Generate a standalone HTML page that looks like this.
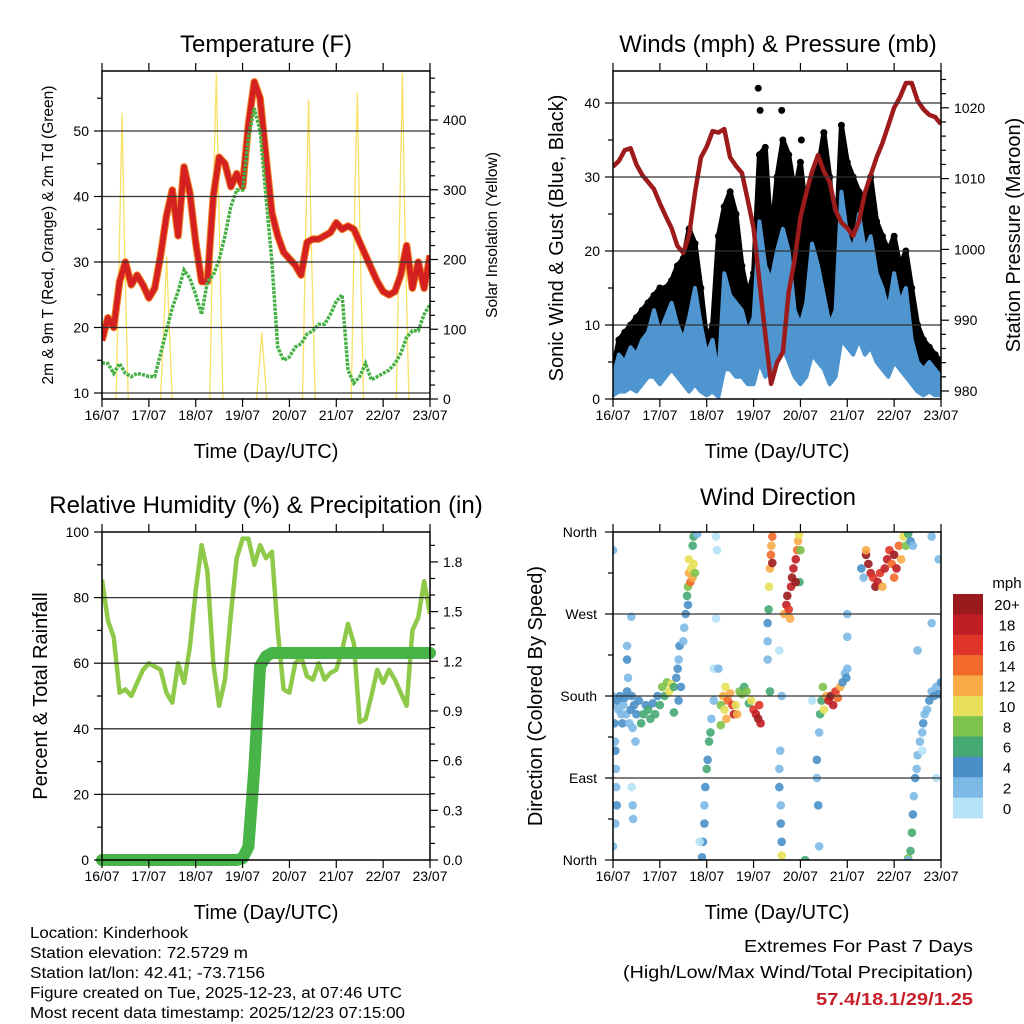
<!DOCTYPE html>
<html><head><meta charset="utf-8">
<style>
html,body{margin:0;padding:0;background:#fff;}
svg{display:block;font-family:"Liberation Sans",Arial,sans-serif;}
</style></head>
<body>
<svg id="fig" width="1024" height="1024" viewBox="0 0 1024 1024" xmlns="http://www.w3.org/2000/svg">
<rect x="0" y="0" width="1024" height="1024" fill="#fff"/>
</svg>
<script>
// ---------- data (0.125-day steps, 57 points, day 0 = 16/07) ----------
const dayLabels = ["16/07","17/07","18/07","19/07","20/07","21/07","22/07","23/07"];
const temp2m = [18,21.5,20,27,30,26.5,28,26.5,24.5,26,31,37,41,34,44.5,40.5,33,27,27,40,46,45,41.5,43.5,41.5,51,57.5,55,46,37.5,34,31.5,30.5,29.5,28,33,33.5,33.5,34,34.5,36,35,35.5,35,33,31,29,27,25.5,25,25.5,28,32.5,26,30,26,31];
const dewpt2m = [14.6,14.5,13,14.5,13,12.5,13,12.8,12.5,12.5,16,19.5,23,25.5,28.8,27.5,25,22,27,28,30.3,34,38.5,41,41,49,53.5,50,40,30,17,15,15.5,17,17.5,19,19.5,20.5,20.5,22,24,25,13.5,11.5,12.5,14.5,12,12.5,13,13.5,14.5,16,18.5,19.5,19.5,22,23.5];
const solarTimes = [0.3,0.38,0.43,0.48,0.56, 1.25,1.33,1.38,1.43,1.5, 2.3,2.38,2.44,2.5,2.58, 3.3,3.37,3.41,3.46,3.52, 4.28,4.36,4.41,4.46,4.55, 5.32,5.4,5.45,5.5,5.58, 6.28,6.36,6.41,6.46,6.55];
const solarValues = [0,250,410,220,0, 0,120,204,110,0, 0,300,467,260,0, 0,60,95,50,0, 0,280,429,240,0, 0,300,439,250,0, 0,290,467,260,0];
const windHi = [3,6,5,7,6,8,9,12,9,11,13,10,8,11,15,10,6,8,3,17,14,13,12,9,11,24,18,16,20,23,20,12,10,13,21,18,14,10,12,28,22,20,25,20,22,17,15,12,17,13,15,8,5,4,5,4,3];
const windLo = [0.5,1,1,1.5,1,2,3,3,2,3,4,3,2,1,2,1,0.5,1,0.3,4,4,3,3,2,2,5,3,4,6,7,5,3,2,3,6,5,4,2,3,8,7,6,8,6,7,5,4,3,5,4,3,2,1,0.5,1,0.5,0.5];
const gustHi = [4,8,9,10,11,12,13,14,15,15,16,18,19,23,21,15,8,10,22,26,28,25,18,14,17,33,34,22,30,35,33,28,32,25,30,31,36,30,20,37,32,30,28,27,30,24,22,20,22,18,20,15,10,8,7,6,5];
const gustOutlierTimes = [3.1,3.14,3.6,4.02,5.7];
const gustOutlierValues = [42,39,39,35,22];
const pressure = [1011.7,1012.5,1014,1014.3,1012,1010.5,1009.5,1008.5,1006.5,1004.7,1003,1000.5,999.5,1002,1008,1013,1014.5,1016.7,1016.5,1017,1013,1011.8,1010.8,1007,1003,995.5,988,981,984,985.5,994,998.5,1004.5,1008,1011,1013.3,1011,1009.5,1005.5,1003.8,1003,1001.9,1004,1008,1010.5,1013,1015,1017.5,1020,1021.5,1023.5,1023.5,1021,1019.8,1019,1018.7,1017.7];
const relHum = [85.5,73,68,51,52,50,54,58,60,59,58,51,48,60,54,65,82,96,88,60,47,55,75,92,98,98,90,96,92,94,70,52,51,60,62,56,55,60,55,57,58,64,72,66,42,43,50,58,54,58,55,51,47,70,74,85,75];
const precip = [0,0,0,0,0,0,0,0,0,0,0,0,0,0,0,0,0,0,0,0,0,0,0,0,0.01,0.08,0.55,1.17,1.23,1.25,1.25,1.25,1.25,1.25,1.25,1.25,1.25,1.25,1.25,1.25,1.25,1.25,1.25,1.25,1.25,1.25,1.25,1.25,1.25,1.25,1.25,1.25,1.25,1.25,1.25,1.25,1.25];
// wind direction scatter
const dirTimes = [0,0.02,0.03,0.04,0.05,0.06,0.07,0.08,0.05,0,0,0.1,0.12,0.15,0.18,0.2,0.22,0.25,0.28,0.3,0.32,0.3,0.3,0.35,0.38,0.4,0.42,0.45,0.4,0.42,0.43,0.48,0.5,0.55,0.39,
0.6,0.65,0.7,0.75,0.8,0.85,0.9,0.95,1,1.05,1.1,1.15,1.2,1.25,1.3,1.35,1.38,1.4,1.42,1.3,1.4,
1.45,1.5,1.52,1.55,1.58,1.6,1.62,1.65,1.67,1.7,1.72,1.75,1.7,1.72,1.8,1.6,1.62,
1.9,1.92,1.95,1.95,1.97,2,2.02,2.05,2.08,1.85,2.2,2.2,2.15,2.25,2.22,2.1,2.15,
2.3,2.35,2.38,2.4,2.42,2.45,2.5,2.55,2.58,2.62,2.65,2.7,2.75,2.8,2.85,2.9,2.95,3,3.05,3.1,3.15,3.12,2.3,
3.3,3.3,3.32,3.33,3.35,3.37,3.38,3.4,3.4,3.3,3.35,
3.55,3.55,3.58,3.58,3.6,3.6,3.57,3.6,3.55,3.65,3.7,3.72,3.75,3.8,3.82,3.85,3.9,3.93,3.95,3.97,4,3.98,3.9,3.78,4.1,4.25,
4.35,4.35,4.38,4.4,4.42,4.45,4.48,4.5,4.55,4.6,4.65,4.7,4.75,4.8,4.85,4.9,4.95,4.98,5,5,5,4.4,
5.3,5.35,5.4,5.45,5.5,5.55,5.6,5.65,5.7,5.75,5.8,5.85,5.9,5.95,6,6.05,6.1,6.15,6.2,6.25,6.3,6.35,6.4,5.4,6,
6.3,6.35,6.38,6.4,6.42,6.45,6.48,6.5,6.55,6.6,6.62,6.65,6.7,6.75,6.8,6.85,6.9,6.95,7,6.5,6.8,6.9,6.95,6.8,6.6,6.3];
const dirValues = [180,170,150,130,120,100,80,60,40,15,340,175,165,180,160,150,170,178,160,185,200,235,220,150,165,180,145,170,80,60,45,130,160,175,267,
150,160,170,165,155,172,160,180,170,190,180,195,185,193,190,200,210,220,235,162,175,
190,240,255,270,290,300,315,305,320,310,325,315,345,355,358,280,330,
3,20,40,60,80,100,110,130,140,20,355,265,210,210,340,155,175,
170,180,165,190,155,175,183,170,160,170,160,185,182,190,185,172,175,165,160,155,150,170,148,
260,240,275,300,320,335,345,355,326,220,185,
100,80,60,40,20,5,120,180,230,270,280,290,275,300,310,320,330,340,350,357,340,305,305,265,0,175,
110,90,60,140,160,175,190,165,180,175,180,170,185,178,190,195,205,200,210,245,270,15,
320,310,335,325,315,310,300,305,315,300,320,330,340,325,335,320,345,330,355,345,358,350,345,340,310,
2,10,30,50,70,90,100,115,130,140,150,160,165,175,185,180,190,182,195,230,260,90,330,355,120,0];
const dirSpeeds = [3,2,4,3,4,2,3,4,2,3,3,4,3,4,2,5,3,4,3,4,3,3,4,3,4,5,3,5,1,2,2,3,4,5,3,
6,7,4,6,7,5,6,4,7,8,6,9,10,11,7,5,4,3,4,6,5,
4,3,3,4,6,8,12,14,10,13,11,9,7,6,3,5,10,
4,5,4,3,5,6,4,7,6,1,1,1,1,2,1,3,2,
8,12,10,11,12,14,13,16,18,10,12,9,8,6,8,7,10,16,18,20,18,17,9,
4,3,6,10,12,14,13,14,20,3,6,
3,4,3,4,4,10,2,3,1,12,18,20,16,18,20,19,18,14,12,10,8,6,20,12,7,1,
4,3,4,3,6,7,8,10,12,18,20,19,16,14,12,4,3,4,2,3,2,3,
5,3,20,20,19,17,20,18,16,12,19,18,16,14,20,18,14,12,10,8,6,4,2,12,15,
8,7,6,4,3,4,3,2,3,2,4,3,3,4,3,4,3,4,4,2,3,1,2,2,1,3];
const speedBinLabels = ["20+","18","16","14","12","10","8","6","4","2","0"];
const speedBinColors = ["#9b1a1c","#bf1e24","#e03428","#f26a2a","#f8ab46","#e8e05a","#7dc24c","#46a872","#4a90c8","#7db9e5","#b5e2f7"];

// ---------- helpers ----------
const NS="http://www.w3.org/2000/svg";
const svg=document.getElementById('fig');
function mk(tag,attrs,parent){const e=document.createElementNS(NS,tag);for(const k in attrs)e.setAttribute(k,attrs[k]);(parent||svg).appendChild(e);return e;}
function txt(s,x,y,size,anchor,parent,extra){const e=mk('text',Object.assign({x:x,y:y,'font-size':size,'text-anchor':anchor||'middle',fill:'#000'},extra||{}),parent);e.textContent=s;return e;}
const stepT = i => i*0.125;

function panel(name,x0,y0,w,h){
  const g=mk('g',{});
  
  
  return {g,x0,y0,w,h,xs:t=>x0+t/7*w};
}
function frame(P,leftTicks,rightTicks,grid){
  const g=P.g;
  const ax=mk('g',{},g);
  
  
  grid.forEach(y=>{mk('line',{x1:P.x0,x2:P.x0+P.w,y1:y,y2:y,stroke:'#333','stroke-width':1.3},ax);});
  mk('rect',{x:P.x0,y:P.y0,width:P.w,height:P.h,fill:'none',stroke:'#000','stroke-width':1.5},ax);
  for(let d=0;d<=7;d++){const x=P.xs(d);
    mk('line',{x1:x,x2:x,y1:P.y0,y2:P.y0-8,stroke:'#000','stroke-width':1.2},ax);
    mk('line',{x1:x,x2:x,y1:P.y0+P.h,y2:P.y0+P.h+8,stroke:'#000','stroke-width':1.2},ax);
    const t=txt(dayLabels[d],x,P.y0+P.h+21,14,'middle',ax);
    
    
  }
  leftTicks.forEach(([y,lab,major])=>{mk('line',{x1:P.x0,x2:P.x0-(major?8:5),y1:y,y2:y,stroke:'#000','stroke-width':1.2},ax);
    if(lab!==null){const t=txt(lab,P.x0-13,y+5,14,'end',ax);}});
  rightTicks.forEach(([y,lab,major])=>{mk('line',{x1:P.x0+P.w,x2:P.x0+P.w+(major?8:5),y1:y,y2:y,stroke:'#000','stroke-width':1.2},ax);
    if(lab!==null){const t=txt(lab,P.x0+P.w+13,y+5,14,'start',ax);}});
  const xl=txt('Time (Day/UTC)',P.x0+P.w/2,P.y0+P.h+59,20,'middle',g);
  
  
}
function pathFrom(xs,ys){return xs.map((x,i)=>(i?'L':'M')+x.toFixed(1)+','+ys[i].toFixed(1)).join('');}
function clip(P,id){const c=mk('clipPath',{id:id});mk('rect',{x:P.x0,y:P.y0,width:P.w,height:P.h},c);return 'url(#'+id+')';}

// ================= Panel 1: Temperature =================
(function(){
  const P=panel('temperature-panel',102,71,328,328);
  const yT=v=>393-(v-10)*6.55;
  const yS=v=>399-v*0.6975;
  const data=mk('g',{'clip-path':clip(P,'c1')},P.g);
  const sp=mk('path',{d:pathFrom(solarTimes.map(P.xs),solarValues.map(yS)),fill:'none',stroke:'#f7dc4a','stroke-width':1.3,'stroke-opacity':0.85},data);
  
  
  const xsT=temp2m.map((v,i)=>P.xs(stepT(i)));
  const o=mk('path',{d:pathFrom(xsT,temp2m.map(yT)),fill:'none',stroke:'#f07f22','stroke-width':7.5,'stroke-linejoin':'round'},data);
  
  
  const r=mk('path',{d:pathFrom(xsT,temp2m.map(yT)),fill:'none',stroke:'#d42020','stroke-width':5.5,'stroke-linejoin':'round'},data);
  
  
  const d=mk('path',{d:pathFrom(xsT,dewpt2m.map(yT)),fill:'none',stroke:'#45b043','stroke-width':3.5,'stroke-dasharray':'3 1.2'},data);
  
  
  const L=[];for(let v=10;v<=55;v+=5)L.push([yT(v),v%10===0?String(v):null,v%10===0]);
  const R=[];for(let v=0;v<=460;v+=20)R.push([yS(v),v%100===0?String(v):null,v%100===0]);
  frame(P,L,R,[10,20,30,40,50].map(yT));
  const t=txt('Temperature (F)',266,52,24,'middle',P.g);
  const yl=txt('2m & 9m T (Red, Orange) & 2m Td (Green)',0,0,15.5,'middle',P.g,{transform:'translate(53,235) rotate(-90)'});
  
  const yr=txt('Solar Insolation (Yellow)',0,0,15.5,'middle',P.g,{transform:'translate(497,235) rotate(-90)'});
  
})();

// ================= Panel 2: Winds & Pressure =================
(function(){
  const P=panel('winds-pressure-panel',613,71,328,328);
  const yW=v=>399-v*7.4;
  const yP=v=>391-(v-980)*7.08;
  const data=mk('g',{'clip-path':clip(P,'c2')},P.g);
  const xs=windHi.map((v,i)=>P.xs(stepT(i)));
  const gArea=mk('path',{d:pathFrom(xs,gustHi.map(yW))+pathFrom(xs.slice().reverse(),windHi.slice().reverse().map(yW)).replace('M','L')+'Z',fill:'#000',stroke:'#000','stroke-width':5,'stroke-linejoin':'round'},data);
  
  
  gustHi.forEach((v,i)=>{const c=mk('circle',{cx:xs[i],cy:yW(v),r:3.5,fill:'#000'},data);
    
    });
  gustOutlierTimes.forEach((t,i)=>{const c=mk('circle',{cx:P.xs(t),cy:yW(gustOutlierValues[i]),r:3.5,fill:'#000'},data);
    
    });
  const wArea=mk('path',{d:pathFrom(xs,windHi.map(yW))+pathFrom(xs.slice().reverse(),windLo.slice().reverse().map(yW)).replace('M','L')+'Z',fill:'#4f95d0',stroke:'#4f95d0','stroke-width':4,'stroke-linejoin':'round'},data);
  
  
  const pl=mk('path',{d:pathFrom(xs,pressure.map(yP)),fill:'none',stroke:'#9e1b1b','stroke-width':4.5,'stroke-linejoin':'round'},data);
  
  
  const L=[];for(let v=0;v<=40;v+=5)L.push([yW(v),v%10===0?String(v):null,v%10===0]);
  const R=[];for(let v=980;v<=1024;v+=2)R.push([yP(v),v%10===0?String(v):null,v%10===0]);
  frame(P,L,R,[10,20,30,40].map(yW));
  const t=txt('Winds (mph) & Pressure (mb)',778,52,24,'middle',P.g);
  const yl=txt('Sonic Wind & Gust (Blue, Black)',0,0,20,'middle',P.g,{transform:'translate(563,238) rotate(-90)'});
  
  const yr=txt('Station Pressure (Maroon)',0,0,20,'middle',P.g,{transform:'translate(1020,235) rotate(-90)'});
  
})();

// ================= Panel 3: RH & Precip =================
(function(){
  const P=panel('humidity-precip-panel',102,532,328,328);
  const yH=v=>860-v*3.28;
  const yR=v=>860-v*165.6;
  const data=mk('g',{'clip-path':clip(P,'c3')},P.g);
  const xs=relHum.map((v,i)=>P.xs(stepT(i)));
  const rh=mk('path',{d:pathFrom(xs,relHum.map(yH)),fill:'none',stroke:'#8fc94a','stroke-width':4.5,'stroke-linejoin':'round'},data);
  
  
  const pr=mk('path',{d:pathFrom(xs,precip.map(yR)),fill:'none',stroke:'#48b447','stroke-width':12,'stroke-linejoin':'round','stroke-linecap':'round'},P.g);
  
  
  const L=[];for(let v=0;v<=100;v+=10)L.push([yH(v),v%20===0?String(v):null,v%20===0]);
  const R=[];for(let k=0;k<=19;k++){const v=k*0.1;R.push([yR(v),k%3===0?v.toFixed(1):null,k%3===0]);}
  frame(P,L,R,[20,40,60,80].map(yH));
  const t=txt('Relative Humidity (%) & Precipitation (in)',266,513,24,'middle',P.g);
  const yl=txt('Percent & Total Rainfall',0,0,20,'middle',P.g,{transform:'translate(47,696) rotate(-90)'});
  
})();

// ================= Panel 4: Wind Direction =================
(function(){
  const P=panel('wind-direction-panel',613,532,328,328);
  const yD=v=>860-v/360*328;
  const data=mk('g',{'clip-path':clip(P,'c4')},P.g);
  const binOf=s=>10-Math.min(10,Math.floor(s/2));
  dirTimes.forEach((t,i)=>{const c=mk('circle',{cx:P.xs(t),cy:yD(dirValues[i]),r:4.3,fill:speedBinColors[binOf(dirSpeeds[i])],'fill-opacity':0.9},data);
    
    });
  const labs=['North','East','South','West','North'];
  const L=[];for(let v=0;v<=360;v+=45)L.push([yD(v),null,v%90===0]);
  frame(P,L,[],[90,180,270].map(yD));
  labs.forEach((s,k)=>{const e=txt(s,P.x0-16,yD(k*90)+5,14,'end',P.g);});
  const t=txt('Wind Direction',778,505,24,'middle',P.g);
  const yl=txt('Direction (Colored By Speed)',0,0,20,'middle',P.g,{transform:'translate(542,696) rotate(-90)'});
  
  const cb=mk('g',{},P.g);
  
  
  const bh=(818-594)/speedBinLabels.length;
  speedBinLabels.forEach((lab,k)=>{
    const r=mk('rect',{x:953,y:594+k*bh,width:30,height:bh+0.3,fill:speedBinColors[k]},cb);
    
    
    const e=txt(lab,1007,594+k*bh+bh/2+6,15,'middle',cb);
    
    
  });
  const m=txt('mph',1007,588,15,'middle',cb);
})();

// ================= footer text =================
(function(){
  const g=mk('g',{});
  
  
  const lines=[['Location: Kinderhook',158],['Station elevation: 72.5729 m',218],['Station lat/lon: 42.41; -73.7156',235],['Figure created on Tue, 2025-12-23, at 07:46 UTC',372],['Most recent data timestamp: 2025/12/23 07:15:00',375]];
  lines.forEach(([s,w],k)=>{const e=txt(s,30,938+k*20,15.5,'start',g,{textLength:w,lengthAdjust:'spacingAndGlyphs'});});
  const h=mk('g',{});
  
  
  const a=txt('Extremes For Past 7 Days',973,952,17.5,'end',h,{textLength:229,lengthAdjust:'spacingAndGlyphs'});
  const b=txt('(High/Low/Max Wind/Total Precipitation)',973,978,17.5,'end',h,{textLength:350,lengthAdjust:'spacingAndGlyphs'});
  const c=txt('57.4/18.1/29/1.25',973,1005,17.5,'end',h,{fill:'#c8202a','font-weight':'bold',textLength:157,lengthAdjust:'spacingAndGlyphs'});
})();
</script>
</body></html>
